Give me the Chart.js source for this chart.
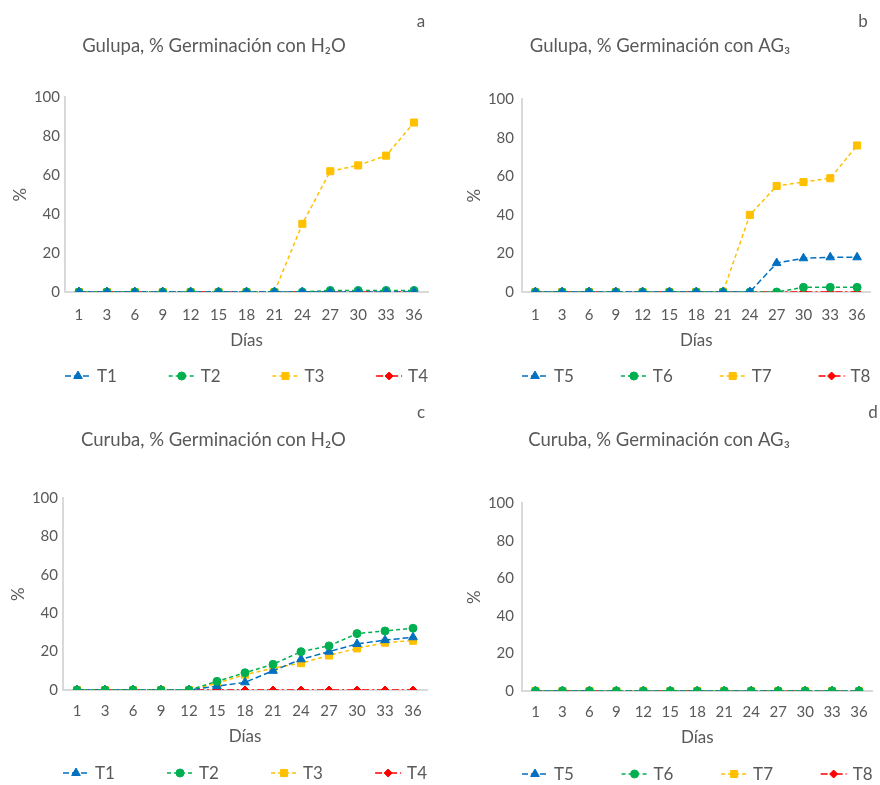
<!DOCTYPE html>
<html>
<head>
<meta charset="utf-8">
<script src="https://cdn.jsdelivr.net/npm/chart.js@4.4.1/dist/chart.umd.min.js"></script>
<style>
    body { margin: 0; background: #fff; }
    #grid { position: relative; width: 880px; height: 785px; }
    .panel { position: absolute; width: 440px; }
    .panel canvas { display: block; }
</style>
</head>
<body>
<div id="grid">
    <div class="panel" style="left:0;top:0;height:392px"><canvas id="chartA"></canvas></div>
    <div class="panel" style="left:440px;top:0;height:392px"><canvas id="chartB"></canvas></div>
    <div class="panel" style="left:0;top:392px;height:393px"><canvas id="chartC"></canvas></div>
    <div class="panel" style="left:440px;top:392px;height:393px"><canvas id="chartD"></canvas></div>
</div>
<script>
// Días de evaluación
const dias = ['1', '3', '6', '9', '12', '15', '18', '21', '24', '27', '30', '33', '36'];
const yTicks = [0, 20, 40, 60, 80, 100];

// Gulupa, H2O (a)
const gulupaH2O_T1 = [0, 0, 0, 0, 0, 0, 0, 0, 0, 0, 0, 0, 0];
const gulupaH2O_T2 = [0, 0, 0, 0, 0, 0, 0, 0, 0, 0.8, 0.8, 0.8, 0.8];
const gulupaH2O_T3 = [0, 0, 0, 0, 0, 0, 0, 0, 35, 62, 65, 70, 87];
const gulupaH2O_T4 = [0, 0, 0, 0, 0, 0, 0, 0, 0, 0, 0, 0, 0];

// Gulupa, AG3 (b)
const gulupaAG3_T5 = [0, 0, 0, 0, 0, 0, 0, 0, 0, 15, 17.5, 18, 18];
const gulupaAG3_T6 = [0, 0, 0, 0, 0, 0, 0, 0, 0, 0, 2.4, 2.4, 2.4];
const gulupaAG3_T7 = [0, 0, 0, 0, 0, 0, 0, 0, 40, 55, 57, 59, 76];
const gulupaAG3_T8 = [0, 0, 0, 0, 0, 0, 0, 0, 0, 0, 0, 0, 0];

// Curuba, H2O (c)
const curubaH2O_T1 = [0, 0, 0, 0, 0, 2, 4, 10, 16, 20, 24, 26, 27.5];
const curubaH2O_T2 = [0, 0, 0, 0, 0, 4.5, 9, 13.4, 20, 23, 29.4, 30.8, 32.2];
const curubaH2O_T3 = [0, 0, 0, 0, 0, 3.5, 8, 11.3, 14, 18, 21.7, 24.7, 25.7];
const curubaH2O_T4 = [0, 0, 0, 0, 0, 0, 0, 0, 0, 0, 0, 0, 0];

// Curuba, AG3 (d)
const curubaAG3_T5 = [0, 0, 0, 0, 0, 0, 0, 0, 0, 0, 0, 0, 0];
const curubaAG3_T6 = [0, 0, 0, 0, 0, 0, 0, 0, 0, 0, 0, 0, 0];
const curubaAG3_T7 = [0, 0, 0, 0, 0, 0, 0, 0, 0, 0, 0, 0, 0];
const curubaAG3_T8 = [0, 0, 0, 0, 0, 0, 0, 0, 0, 0, 0, 0, 0];

const FONT = 'Lato, "Open Sans", sans-serif';
const TEXT = '#595959';
const AXIS = '#D9D9D9';

// estilo de cada tratamiento (posición dentro del panel)
const styles = [
    { color: '#0070C0', pointStyle: 'triangle', radius: 5, dash: [6, 3] },
    { color: '#00B050', pointStyle: 'circle', radius: 4, dash: [4, 3] },
    { color: '#FFC000', pointStyle: 'rect', radius: 5, dash: [4, 3] },
    { color: '#FF0000', pointStyle: 'rectRot', radius: 4, dash: [7, 3, 2, 3] }
];

function makeDataset(label, data, idx, order) {
    const s = styles[idx];
    return {
        label,
        data,
        borderColor: s.color,
        backgroundColor: s.color,
        borderWidth: 1.5,
        borderDash: s.dash,
        tension: 0,
        pointStyle: s.pointStyle,
        pointRadius: s.radius,
        pointHoverRadius: s.radius,
        pointBackgroundColor: s.color,
        pointBorderColor: s.color,
        pointBorderWidth: 1,
        order: order || 0
    };
}

// letra del panel + leyenda con línea y marcador
const panelDecor = {
    id: 'panelDecor',
    afterDraw(chart, args, opts) {
        const ctx = chart.ctx;
        ctx.save();
        ctx.fillStyle = TEXT;
        ctx.font = '17px ' + FONT;
        ctx.textAlign = 'center';
        ctx.textBaseline = 'middle';
        ctx.fillText(opts.letter, opts.letterX, opts.letterY);

        const datasets = chart.data.datasets;
        const iconW = 26, gap = 6;
        ctx.textAlign = 'left';
        const widths = datasets.map(ds => iconW + gap + ctx.measureText(ds.label).width);
        const total = widths.reduce((a, b) => a + b, 0);
        const { left, right } = chart.chartArea;
        const space = (right - left - total) / (datasets.length - 1);
        const y = opts.legendY;
        let x = left;
        datasets.forEach((ds, i) => {
            ctx.strokeStyle = ds.borderColor;
            ctx.lineWidth = ds.borderWidth;
            ctx.setLineDash(ds.borderDash);
            ctx.beginPath();
            ctx.moveTo(x, y);
            ctx.lineTo(x + iconW, y);
            ctx.stroke();
            ctx.setLineDash([]);
            ctx.fillStyle = ds.pointBackgroundColor;
            ctx.lineWidth = 1;
            Chart.helpers.drawPoint(ctx, { pointStyle: ds.pointStyle, radius: ds.pointRadius, rotation: 0, borderWidth: 1 }, x + iconW / 2, y);
            ctx.fillStyle = TEXT;
            ctx.fillText(ds.label, x + iconW + gap, y + 1);
            x += widths[i] + space;
        });
        ctx.restore();
    }
};

function makeChart(id, title, datasets, p) {
    return new Chart(document.getElementById(id), {
        type: 'line',
        data: { labels: dias, datasets },
        plugins: [panelDecor],
        options: {
            responsive: true,
            maintainAspectRatio: false,
            animation: false,
            layout: { padding: { left: 0, right: p.padRight, top: 0, bottom: p.padBottom } },
            plugins: {
                legend: { display: false },
                tooltip: { enabled: false },
                title: {
                    display: true,
                    text: title,
                    color: TEXT,
                    font: { family: FONT, size: 18.5, weight: 'normal' },
                    padding: { top: p.titleTop, bottom: p.titleBottom }
                },
                panelDecor: { letter: p.letter, letterX: p.letterX, letterY: p.letterY, legendY: p.legendY }
            },
            scales: {
                x: {
                    type: 'category',
                    offset: true,
                    afterFit: (scale) => { scale.height = p.xHeight; },
                    grid: { display: false, drawTicks: false },
                    border: { display: true, color: AXIS, width: 2 },
                    ticks: { color: TEXT, font: { family: FONT, size: 15 }, padding: p.xPad, maxRotation: 0, autoSkip: false },
                    title: { display: true, text: 'Días', color: TEXT, font: { family: FONT, size: 17 }, padding: { top: 0, bottom: 0 } }
                },
                y: {
                    min: 0,
                    max: 100,
                    afterFit: (scale) => { scale.width = p.yWidth; },
                    afterBuildTicks: (scale) => { scale.ticks = yTicks.map(v => ({ value: v })); },
                    grid: { display: false, drawTicks: false },
                    border: { display: true, color: AXIS, width: 2 },
                    ticks: { color: TEXT, font: { family: FONT, size: 15 }, padding: p.yPad },
                    title: { display: true, text: '%', color: TEXT, font: { family: FONT, size: 17 }, padding: { top: p.yTitlePad, bottom: 0 } }
                }
            }
        }
    });
}

makeChart('chartA', 'Gulupa, % Germinación con H₂O', [
    makeDataset('T1', gulupaH2O_T1, 0),
    makeDataset('T2', gulupaH2O_T2, 1),
    makeDataset('T3', gulupaH2O_T3, 2),
    makeDataset('T4', gulupaH2O_T4, 3)
], { padRight: 12, padBottom: 41, titleTop: 35, titleBottom: 40, xHeight: 59, xPad: 14, yWidth: 65, yPad: 5, yTitlePad: 10, letter: 'a', letterX: 421, letterY: 22, legendY: 376 });

makeChart('chartB', 'Gulupa, % Germinación con AG₃', [
    makeDataset('T5', gulupaAG3_T5, 0),
    makeDataset('T6', gulupaAG3_T6, 1),
    makeDataset('T7', gulupaAG3_T7, 2),
    makeDataset('T8', gulupaAG3_T8, 3)
], { padRight: 0, padBottom: 41, titleTop: 35, titleBottom: 42, xHeight: 59, xPad: 14, yWidth: 82, yPad: 8, yTitlePad: 24, letter: 'b', letterX: 423, letterY: 22, legendY: 376 });

makeChart('chartC', 'Curuba, % Germinación con H₂O', [
    makeDataset('T1', curubaH2O_T1, 0),
    makeDataset('T2', curubaH2O_T2, 1, -1),
    makeDataset('T3', curubaH2O_T3, 2),
    makeDataset('T4', curubaH2O_T4, 3)
], { padRight: 13, padBottom: 38, titleTop: 37, titleBottom: 47, xHeight: 57, xPad: 12, yWidth: 63, yPad: 5, yTitlePad: 8, letter: 'c', letterX: 421, letterY: 21, legendY: 381 });

makeChart('chartD', 'Curuba, % Germinación con AG₃', [
    makeDataset('T5', curubaAG3_T5, 0),
    makeDataset('T6', curubaAG3_T6, 1, -1),
    makeDataset('T7', curubaAG3_T7, 2),
    makeDataset('T8', curubaAG3_T8, 3)
], { padRight: 2, padBottom: 37, titleTop: 37, titleBottom: 52, xHeight: 57, xPad: 12, yWidth: 82, yPad: 8, yTitlePad: 24, letter: 'd', letterX: 433, letterY: 21, legendY: 382 });
</script>
</body>
</html>
